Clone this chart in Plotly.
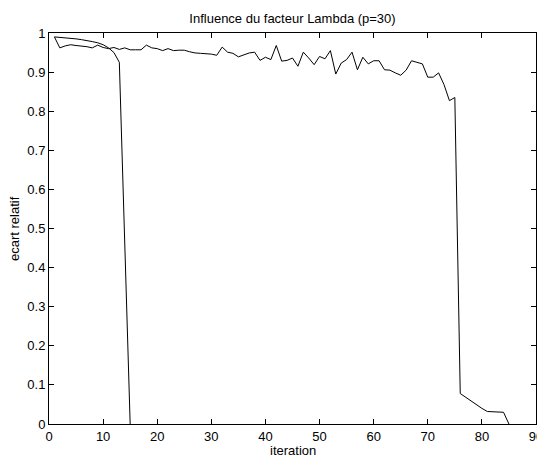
import plotly.graph_objects as go

# Series A: long run (iterations 1..85)
iter_a = list(range(1, 86))
ecart_a = [0.990, 0.962, 0.967, 0.970, 0.968, 0.967, 0.965, 0.962, 0.969, 0.963,
           0.960, 0.963, 0.958, 0.962, 0.957, 0.957, 0.957, 0.969, 0.962, 0.960,
           0.955, 0.960, 0.955, 0.956, 0.956, 0.952, 0.949, 0.948, 0.947, 0.946,
           0.943, 0.964, 0.951, 0.948, 0.939, 0.945, 0.949, 0.951, 0.930, 0.938,
           0.932, 0.968, 0.928, 0.930, 0.936, 0.915, 0.951, 0.936, 0.919, 0.940,
           0.934, 0.955, 0.895, 0.923, 0.932, 0.951, 0.906, 0.938, 0.921, 0.929,
           0.929, 0.906, 0.905, 0.898, 0.892, 0.905, 0.929, 0.925, 0.921, 0.887,
           0.887, 0.898, 0.868, 0.827, 0.835, 0.078, 0.068, 0.059, 0.049, 0.040,
           0.032, 0.031, 0.030, 0.030, 0.000]

# Series B: short run
iter_b = [1, 2, 3, 4, 5, 6, 7, 8, 9, 10, 11, 12, 13, 15]
ecart_b = [0.990, 0.989, 0.988, 0.987, 0.985, 0.983, 0.981, 0.978, 0.975,
           0.970, 0.962, 0.950, 0.925, 0.000]

x_ticks = [0, 10, 20, 30, 40, 50, 60, 70, 80, 90]
y_ticks = [0, 0.1, 0.2, 0.3, 0.4, 0.5, 0.6, 0.7, 0.8, 0.9, 1]
y_labels = ["0", "0.1", "0.2", "0.3", "0.4", "0.5", "0.6", "0.7", "0.8", "0.9", "1"]

FONT = "Liberation Sans, Arial, Helvetica"

fig = go.Figure()
fig.add_trace(go.Scatter(x=iter_a, y=ecart_a, mode="lines",
                         line=dict(color="black", width=1), showlegend=False))
fig.add_trace(go.Scatter(x=iter_b, y=ecart_b, mode="lines",
                         line=dict(color="black", width=1), showlegend=False))

axis_common = dict(showgrid=False, zeroline=False, showline=True, linecolor="black",
                   linewidth=1, mirror="allticks", ticks="inside", ticklen=5,
                   tickcolor="black", tickwidth=1, ticklabeloverflow="allow",
                   tickfont=dict(family=FONT, size=13, color="black"))

# page body has an 8px default margin, so the figure is 8px smaller than the window
fig.update_layout(
    width=537, height=452,
    margin=dict(l=41, r=2, t=25, b=36),
    paper_bgcolor="white", plot_bgcolor="white",
    title=dict(text="Influence du facteur Lambda (p=30)", xref="paper", x=0.5,
               xanchor="center", y=1 - 10 / 452, yanchor="middle",
               font=dict(family=FONT, size=13, color="black")),
    xaxis=dict(range=[0, 90], tickvals=x_ticks, ticktext=[str(v) for v in x_ticks],
               **axis_common),
    yaxis=dict(range=[0, 1], tickvals=y_ticks, ticktext=y_labels, **axis_common),
    annotations=[
        dict(text="iteration", xref="paper", yref="paper", x=0.5, y=-26 / 391,
             xanchor="center", yanchor="middle", showarrow=False,
             font=dict(family=FONT, size=13, color="black")),
        dict(text="ecart relatif", xref="paper", yref="paper", x=-35 / 494, y=0.5,
             xanchor="center", yanchor="middle", textangle=-90, showarrow=False,
             font=dict(family=FONT, size=13, color="black")),
    ],
)

fig.write_html("out.html")
